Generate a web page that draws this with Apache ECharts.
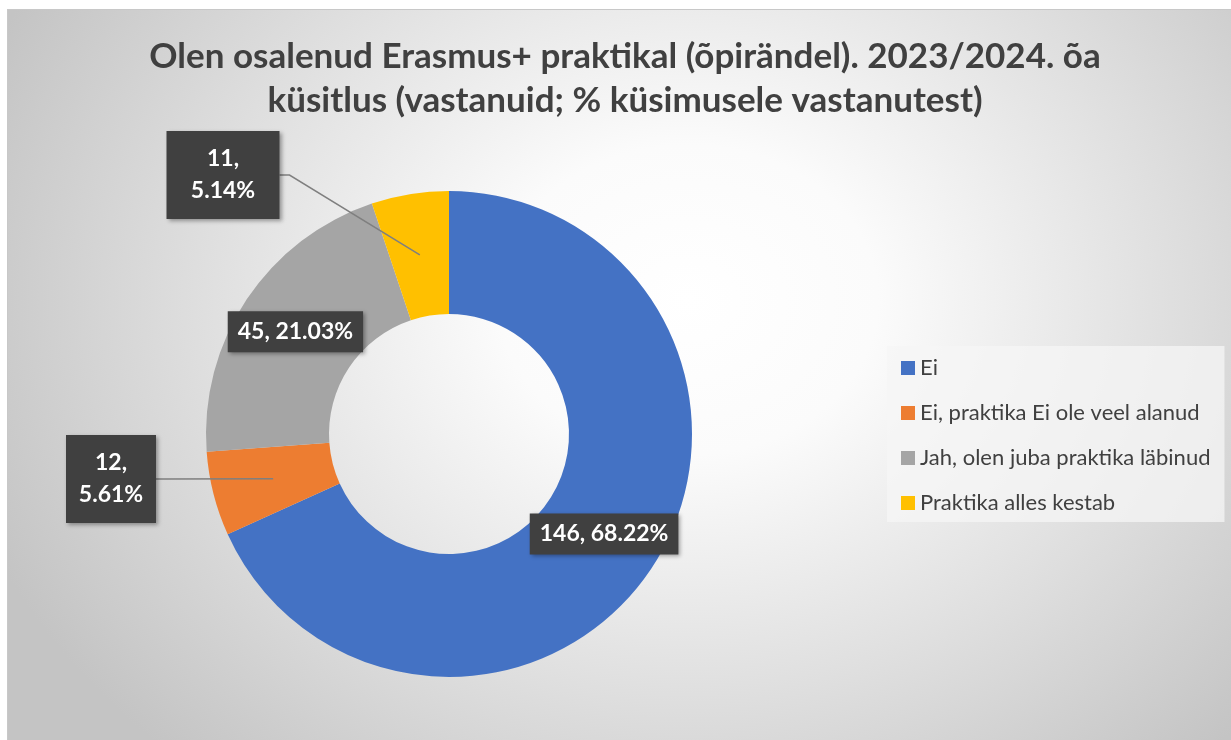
<!DOCTYPE html>
<html>
<head>
<meta charset="utf-8">
<script src="https://cdn.jsdelivr.net/npm/echarts@6/dist/echarts.min.js"></script>
<style>
    html, body { margin: 0; padding: 0; background: #ffffff; }
    #chart {
        position: absolute;
        left: 7px;
        top: 9px;
        width: 1224px;
        height: 731px;
        border-top: 1px solid #c8c8c8;
        border-left: 1px solid #c8c8c8;
        box-sizing: border-box;
        background: radial-gradient(ellipse 760px 620px at 680px 290px, #ffffff 0%, #fbfbfb 25%, #dedede 65%, #c4c4c4 100%);
    }
</style>
</head>
<body>
<div id="chart"></div>
<script>
    // andmed
    var categories = ['Ei', 'Ei, praktika Ei ole veel alanud', 'Jah, olen juba praktika läbinud', 'Praktika alles kestab'];
    var counts = [146, 12, 45, 11];
    var colors = ['#4472C4', '#ED7D31', '#A5A5A5', '#FFC000'];
    var titleText = 'Olen osalenud Erasmus+ praktikal (õpirändel). 2023/2024. õa\nküsitlus (vastanuid; % küsimusele vastanutest)';

    var fontFamily = 'Lato, "Open Sans", sans-serif';
    var chartDom = document.getElementById('chart');
    var myChart = echarts.init(chartDom);

    var pieCenter = [441, 424];
    var pieRadius = [120, 243];

    // väikesed sektorid saavad sildi väljapoole, kahes reas
    var outsideLabels = {
        1: { x: 103, y: 469, width: 66, pad: 12 },
        3: { x: 215, y: 165, width: 85, pad: 14 }
    };

    var total = counts.reduce(function (a, b) { return a + b; }, 0);

    // sektori keskpunkt (keskmine nurk, keskmine raadius) juhtjoone lõpuks
    var sectorMid = function (index) {
        var before = 0;
        for (var i = 0; i < index; i++) before += counts[i];
        var frac = (before + counts[index] / 2) / total;
        var ang = frac * Math.PI * 2;
        var r = (pieRadius[0] + pieRadius[1]) / 2;
        return [pieCenter[0] + r * Math.sin(ang), pieCenter[1] - r * Math.cos(ang)];
    };

    // sektorid
    var ringData = categories.map(function (name, i) {
        return { name: name, value: counts[i], itemStyle: { color: colors[i] } };
    });

    // sildid eraldi läbipaistval ringil, et juhtjooned jääksid sektorite peale
    var labelData = categories.map(function (name, i) {
        var item = { name: name, value: counts[i], itemStyle: { color: 'rgba(0,0,0,0)' } };
        if (outsideLabels[i]) {
            item.label = {
                position: 'outside',
                width: outsideLabels[i].width,
                overflow: 'none',
                align: 'center',
                padding: [12, outsideLabels[i].pad],
                lineHeight: 32
            };
            item.labelLine = { show: true };
        }
        return item;
    });

    var option = {
        animation: false,
        title: {
            text: titleText,
            left: 612,
            top: 20,
            textAlign: 'center',
            textStyle: {
                fontFamily: fontFamily,
                fontSize: 35,
                fontWeight: 'bold',
                color: '#404040',
                lineHeight: 44
            }
        },
        legend: {
            orient: 'vertical',
            left: 879,
            top: 336,
            padding: [10, 14, 7, 14],
            backgroundColor: 'rgba(245,245,245,0.75)',
            itemWidth: 14,
            itemHeight: 14,
            itemGap: 21,
            icon: 'rect',
            textStyle: {
                fontFamily: fontFamily,
                fontSize: 22,
                color: '#404040',
                lineHeight: 24
            },
            data: categories
        },
        series: [
            {
                type: 'pie',
                center: pieCenter,
                radius: pieRadius,
                startAngle: 90,
                clockwise: true,
                label: { show: false },
                labelLine: { show: false },
                emphasis: { disabled: true },
                data: ringData
            },
            {
                type: 'pie',
                z: 5,
                silent: true,
                center: pieCenter,
                radius: pieRadius,
                startAngle: 90,
                clockwise: true,
                avoidLabelOverlap: false,
                label: {
                    show: true,
                    position: 'inside',
                    formatter: function (p) {
                        if (outsideLabels[p.dataIndex]) {
                            return p.value + ',\n' + p.percent.toFixed(2) + '%';
                        }
                        return p.value + ', ' + p.percent.toFixed(2) + '%';
                    },
                    fontFamily: fontFamily,
                    fontSize: 23,
                    fontWeight: 'bold',
                    color: '#ffffff',
                    backgroundColor: '#404040',
                    lineHeight: 27,
                    padding: [7, 10, 7, 10],
                    shadowBlur: 4,
                    shadowOffsetX: 2,
                    shadowOffsetY: 2,
                    shadowColor: 'rgba(0,0,0,0.35)'
                },
                labelLine: {
                    show: false,
                    lineStyle: { color: '#7f7f7f', width: 1.5 }
                },
                labelLayout: function (params) {
                    var pos = outsideLabels[params.dataIndex];
                    if (pos) {
                        var boxRight = pos.x + pos.width / 2 + pos.pad;
                        var end = sectorMid(params.dataIndex);
                        return {
                            x: pos.x,
                            y: pos.y,
                            align: 'center',
                            verticalAlign: 'middle',
                            labelLinePoints: [[boxRight, pos.y], [boxRight + 10, pos.y], end]
                        };
                    }
                    return {};
                },
                emphasis: { disabled: true },
                data: labelData
            }
        ]
    };

    option && myChart.setOption(option);

    window.addEventListener('resize', function () {
        myChart.resize();
    });
</script>
</body>
</html>
